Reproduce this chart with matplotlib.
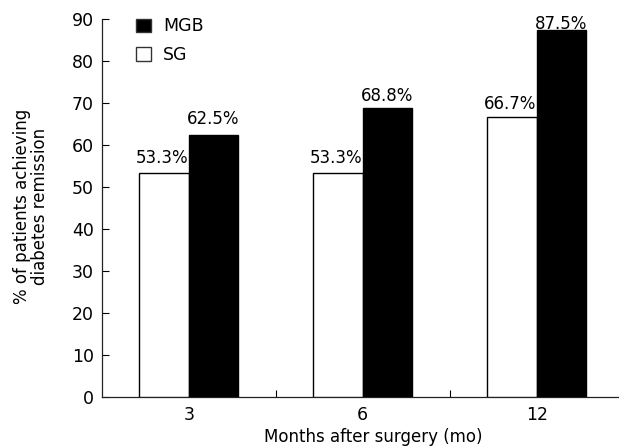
import matplotlib
matplotlib.use("Agg")
import matplotlib.pyplot as plt
from matplotlib.patches import Patch
import numpy as np

categories = ["3", "6", "12"]
sg_values = [53.3, 53.3, 66.7]
mgb_values = [62.5, 68.8, 87.5]
sg_labels = ["53.3%", "53.3%", "66.7%"]
mgb_labels = ["62.5%", "68.8%", "87.5%"]
yticks = [0, 10, 20, 30, 40, 50, 60, 70, 80, 90]

# label offsets above bar tops (points)
sg_offsets = [7.5, 7.5, 6.0]
mgb_offsets = [8.0, 5.0, 0.5]

plt.rcParams['font.family'] = ['DejaVu Sans']
fig = plt.figure(figsize=(6.19, 4.48), dpi=100)
W, H = 619, 448
left_px, right_px, bottom_px, top_px = 101.7, 623.7, 396.7, 19.3
ax = fig.add_axes([left_px / W, 1 - bottom_px / H, (right_px - left_px) / W, (bottom_px - top_px) / H])

x = np.arange(len(categories))
bw = 0.285
ax.bar(x - bw / 2, sg_values, bw, color="white", edgecolor="black", linewidth=1.0, zorder=3)
ax.bar(x + bw / 2, mgb_values, bw, color="black", edgecolor="black", linewidth=1.0, zorder=3)

for i in range(len(categories)):
    ax.annotate(sg_labels[i], (x[i] - bw / 2, sg_values[i]), xytext=(-1.5, sg_offsets[i]),
                textcoords="offset points", ha="center", va="baseline", fontsize=12)
    ax.annotate(mgb_labels[i], (x[i] + bw / 2, mgb_values[i]), xytext=(0, mgb_offsets[i]),
                textcoords="offset points", ha="center", va="baseline", fontsize=12)

ax.set_xlim(-0.5, len(categories) - 0.5)
ax.set_ylim(0, 90)
ax.set_yticks(yticks)
ax.set_xticks(x)
ax.set_xticklabels(categories)
ax.set_xticks(x[:-1] + 0.5, minor=True)
ax.tick_params(axis="y", direction="in", length=5, width=0.8, pad=5.5, labelsize=12.5)
ax.tick_params(axis="x", which="major", length=0, pad=6.5, labelsize=12.5)
ax.tick_params(axis="x", which="minor", direction="in", length=5, width=0.8)

for s in ["top", "right"]:
    ax.spines[s].set_visible(False)
for s in ["left", "bottom"]:
    ax.spines[s].set_linewidth(0.9)
    ax.spines[s].set_color("#222222")

handles = [Patch(facecolor="black", edgecolor="#333333", linewidth=1.0),
           Patch(facecolor="white", edgecolor="#333333", linewidth=1.0)]
ax.legend(handles, ["MGB", "SG"], loc="upper left", bbox_to_anchor=(135.7 / W, 1 - 17.5 / H),
          bbox_transform=fig.transFigure, frameon=False, fontsize=12.5,
          handlelength=0.88, handleheight=0.82, handletextpad=0.7, labelspacing=0.62,
          borderpad=0, borderaxespad=0)

fig.text(31 / W, 1 - 206 / H, "% of patients achieving\ndiabetes remission", rotation=90,
         ha="center", va="center", multialignment="center", fontsize=12, linespacing=0.95)
fig.text(373 / W, 1 - 442 / H, "Months after surgery (mo)", ha="center", va="baseline", fontsize=12)

fig.savefig("out.png", dpi=100)
